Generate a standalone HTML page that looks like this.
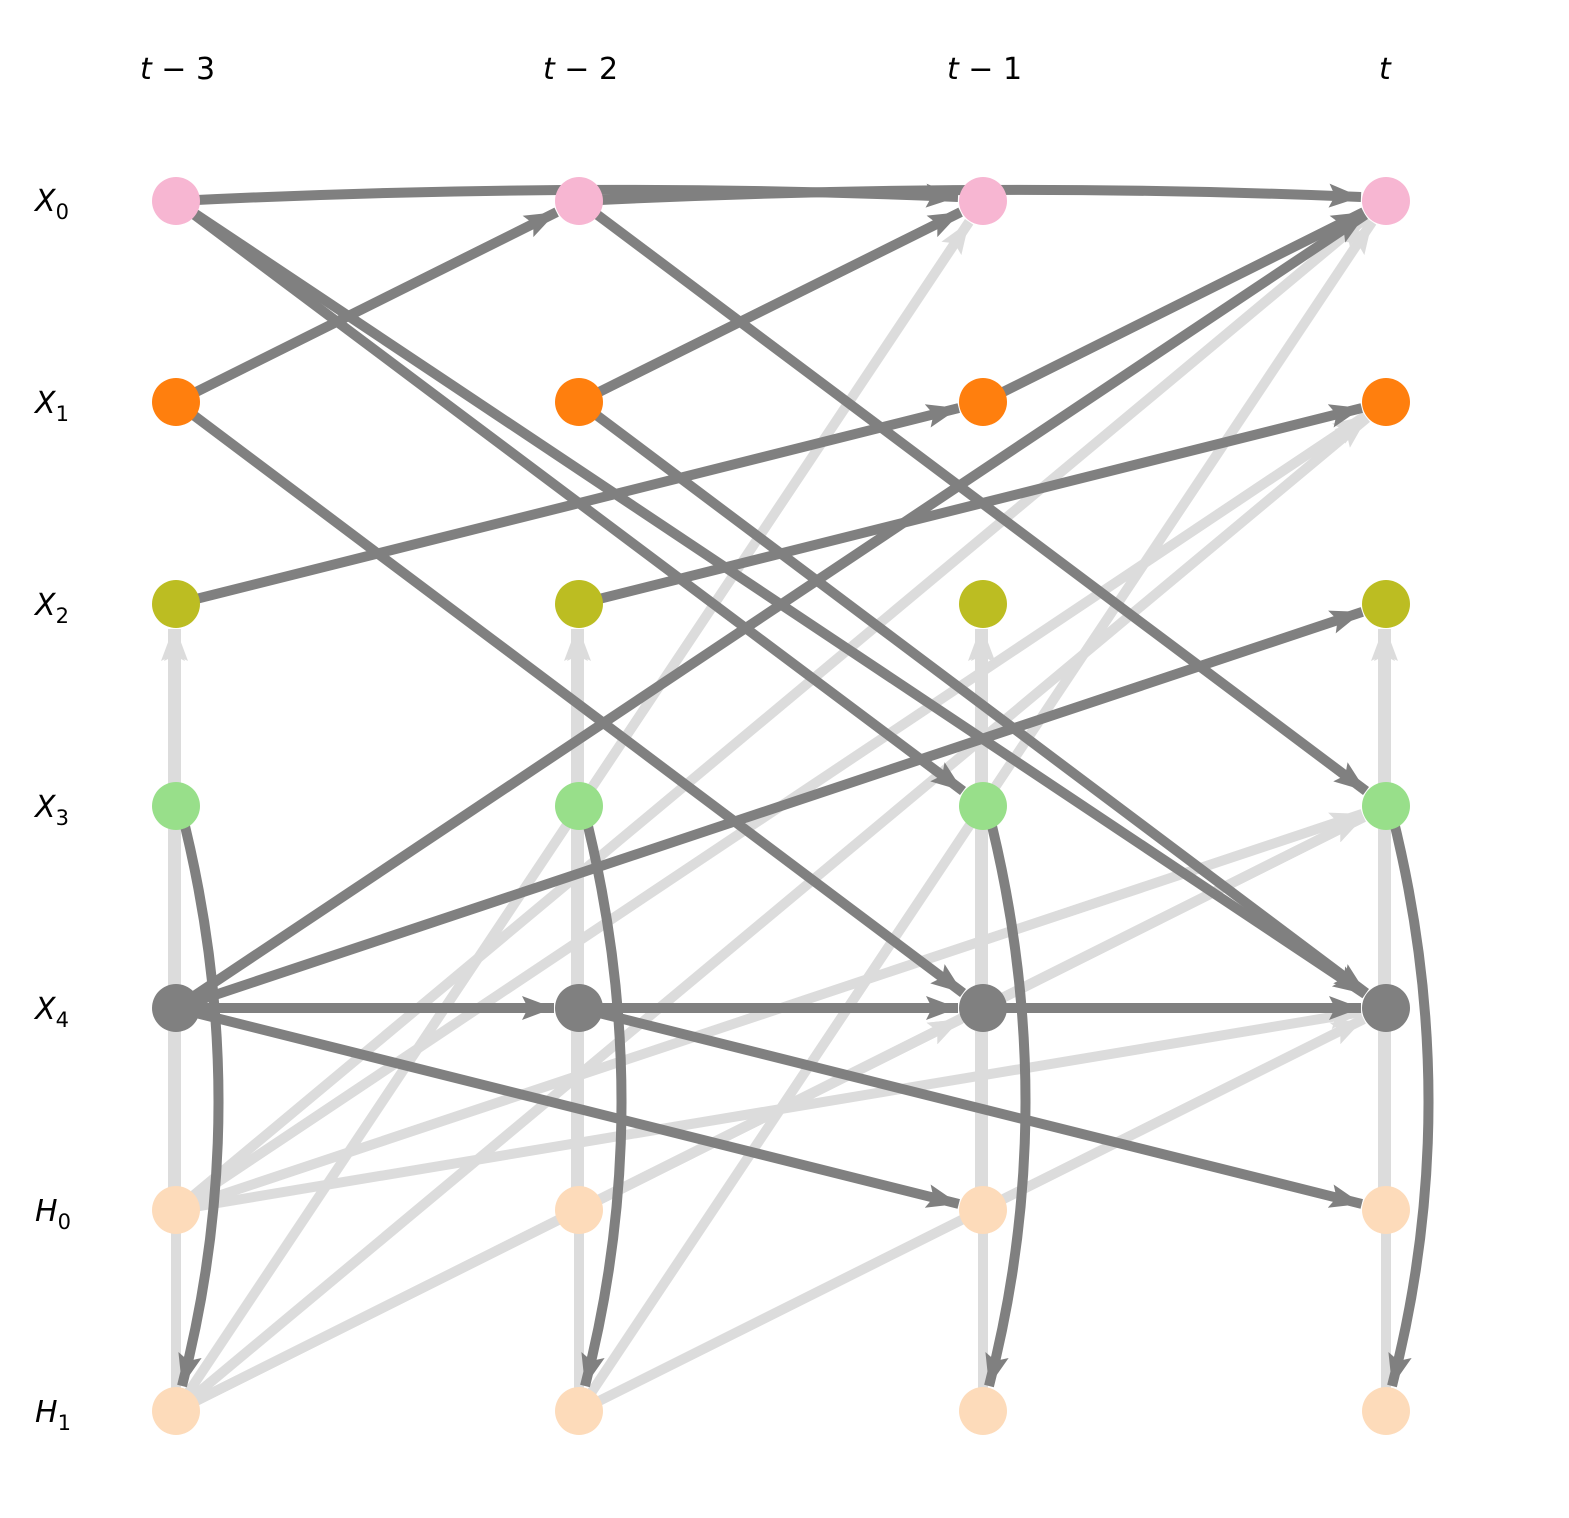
<!DOCTYPE html>
<html><head><meta charset="utf-8"><style>
html,body{margin:0;padding:0;background:#fff;}
svg{display:block}
text{font-family:"DejaVu Sans","Liberation Sans",sans-serif;font-size:30px;fill:#000}
</style></head><body>
<svg id="s" width="1569" height="1518" viewBox="0 0 1569 1518" xmlns="http://www.w3.org/2000/svg">
<defs>
<marker id="ad" markerUnits="userSpaceOnUse" markerWidth="40" markerHeight="30" refX="32" refY="13" orient="auto"><path d="M0,1 L32,13 L0,25 L6,13 Z" fill="#808080"/></marker>
<marker id="al" markerUnits="userSpaceOnUse" markerWidth="40" markerHeight="30" refX="32" refY="13" orient="auto"><path d="M0,1 L32,13 L0,25 L6,13 Z" fill="#dcdcdc"/></marker>
</defs>
<g id="light"></g>
<g id="dark"></g>
<g id="nodes"></g>
<g>
<text x="140" y="79"><tspan font-style="italic">t</tspan> − 3</text>
<text x="543" y="79"><tspan font-style="italic">t</tspan> − 2</text>
<text x="947" y="79"><tspan font-style="italic">t</tspan> − 1</text>
<text x="1379" y="79" font-style="italic">t</text>
</g>
<g font-style="italic">
<text x="35" y="211">X<tspan font-style="normal" font-size="21" dy="8">0</tspan></text>
<text x="35" y="413">X<tspan font-style="normal" font-size="21" dy="8">1</tspan></text>
<text x="35" y="615">X<tspan font-style="normal" font-size="21" dy="8">2</tspan></text>
<text x="35" y="817">X<tspan font-style="normal" font-size="21" dy="8">3</tspan></text>
<text x="35" y="1019">X<tspan font-style="normal" font-size="21" dy="8">4</tspan></text>
<text x="35" y="1221">H<tspan font-style="normal" font-size="21" dy="8">0</tspan></text>
<text x="35" y="1422">H<tspan font-style="normal" font-size="21" dy="8">1</tspan></text>
</g>
</svg>
<script>
var X=[176,579,983,1386],Y=[201,402,604,806,1008,1210,1411];
var cols=["#f7b6d2","#ff7f0e","#bcbd22","#98df8a","#808080","#fddbba","#fddbba"];
var NS="http://www.w3.org/2000/svg";
var SW=10;
function el(p,t,a){var e=document.createElementNS(NS,t);for(var k in a)e.setAttribute(k,a[k]);document.getElementById(p).appendChild(e);return e;}
function line(g,v1,t1,v2,t2,dx){dx=dx||0;var x1=X[t1]+dx,y1=Y[v1],x2=X[t2]+dx,y2=Y[v2];var L=Math.hypot(x2-x1,y2-y1);var s=25/L;
 var dark=g=="dark";el(g,"line",{x1:x1,y1:y1,x2:x2-(x2-x1)*s,y2:y2-(y2-y1)*s,stroke:dark?"#808080":"#dcdcdc","stroke-width":SW,"marker-end":dark?"url(#ad)":"url(#al)"});}
for(var t=0;t<4;t++){line("light",6,t,2,t,0);line("light",5,t,2,t,-3);}
var L=[[6,0,0,2],[6,0,1,3],[6,0,4,2],[6,0,3,3],
[5,0,0,3],[5,0,1,3],[5,0,3,3],[5,0,4,3],
[6,1,0,3],[6,1,4,3],[5,1,3,3],[5,1,4,2]];
L.forEach(function(e){line("light",e[0],e[1],e[2],e[3]);});
var D=[[0,0,3,2],[0,0,4,3],[0,1,3,3],[1,0,4,2],[1,1,4,3],
[1,0,0,1],[1,1,0,2],[1,2,0,3],[2,0,1,2],[2,1,1,3],
[4,0,0,3],[4,0,2,3],[4,0,4,1],[4,1,4,2],[4,2,4,3],[4,0,5,2],[4,1,5,3]];
D.forEach(function(e){line("dark",e[0],e[1],e[2],e[3]);});
el("dark","path",{d:"M176,201 Q579,181 958,197",fill:"none",stroke:"#808080","stroke-width":SW,"marker-end":"url(#ad)"});
el("dark","path",{d:"M579,201 Q983,181 1361,197",fill:"none",stroke:"#808080","stroke-width":SW,"marker-end":"url(#ad)"});
for(var t=0;t<4;t++){var x=X[t];
el("dark","path",{d:"M"+(x+4)+",806 Q"+(x+80)+",1100 "+(x+6)+",1386",fill:"none",stroke:"#808080","stroke-width":SW,"marker-end":"url(#ad)"});}
for(var t=0;t<4;t++)for(var v=0;v<7;v++)el("nodes","circle",{cx:X[t],cy:Y[v],r:24,fill:cols[v]});
</script>
</body></html>
